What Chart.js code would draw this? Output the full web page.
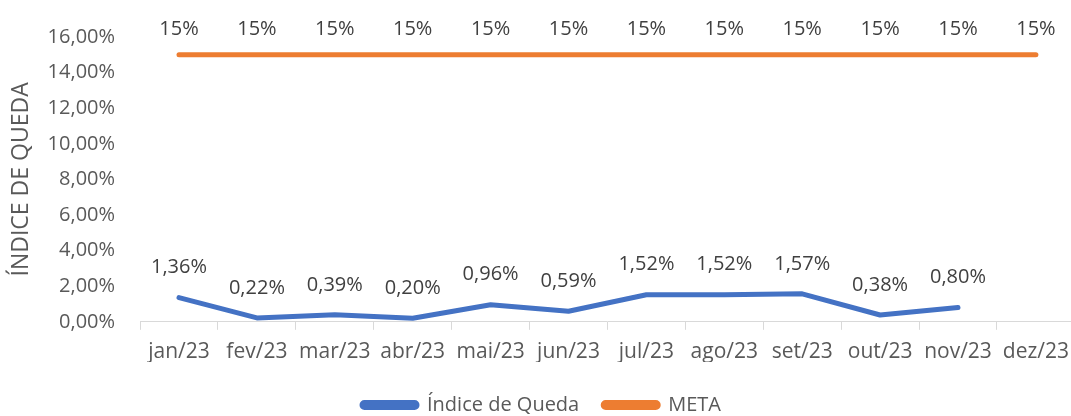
<!DOCTYPE html>
<html>
<head>
<meta charset="utf-8">
<script src="https://cdn.jsdelivr.net/npm/chart.js@4"></script>
<style>
  html, body { margin: 0; padding: 0; background: #fff; overflow: hidden; }
</style>
</head>
<body>
<canvas id="chart" width="1079" height="416"></canvas>
<script>
// meses e valores (%)
var months = ["jan/23", "fev/23", "mar/23", "abr/23", "mai/23", "jun/23",
  "jul/23", "ago/23", "set/23", "out/23", "nov/23", "dez/23"];
var indiceQueda = [1.36, 0.22, 0.39, 0.20, 0.96, 0.59, 1.52, 1.52, 1.57, 0.38, 0.80, null];
var meta = [15, 15, 15, 15, 15, 15, 15, 15, 15, 15, 15, 15];
var yTicks = [0, 2, 4, 6, 8, 10, 12, 14, 16];

var FONT = "'Open Sans', 'Liberation Sans', sans-serif";
var GREY = "#595959";

function pct2(v) {
  return v.toFixed(2).replace(".", ",") + "%";
}

// rótulos de dados acima de cada ponto
var valueLabels = {
  id: "valueLabels",
  afterDatasetsDraw: function (chart) {
    var ctx = chart.ctx;
    ctx.save();
    ctx.font = "20px " + FONT;
    ctx.fillStyle = "#404040";
    ctx.textAlign = "center";
    ctx.textBaseline = "middle";
    chart.data.datasets.forEach(function (ds, i) {
      var meta = chart.getDatasetMeta(i);
      meta.data.forEach(function (pt, j) {
        var v = ds.data[j];
        if (v === null || v === undefined) return;
        var txt = i === 0 ? pct2(v) : v + "%";
        ctx.fillText(txt, pt.x, pt.y - (i === 0 ? 30 : 26));
      });
    });
    ctx.restore();
  },
};

// empurra a legenda um pouco para baixo
var legendShift = {
  id: "legendShift",
  afterLayout: function (chart) {
    if (chart.legend) {
      chart.legend.top += 9;
      chart.legend.bottom += 9;
    }
  },
};

new Chart(document.getElementById("chart").getContext("2d"), {
  type: "line",
  data: {
    labels: months,
    datasets: [
      {
        label: "Índice de Queda",
        data: indiceQueda,
        borderColor: "#4472C4",
        backgroundColor: "#4472C4",
        borderWidth: 5,
        pointRadius: 0,
        borderCapStyle: "round",
        borderJoinStyle: "round",
        tension: 0,
      },
      {
        label: "META",
        data: meta,
        borderColor: "#ED7D31",
        backgroundColor: "#ED7D31",
        borderWidth: 5,
        pointRadius: 0,
        borderCapStyle: "round",
        tension: 0,
      },
    ],
  },
  options: {
    responsive: false,
    animation: false,
    layout: { padding: { top: 36, right: 0, left: 4, bottom: 0 } },
    plugins: {
      tooltip: { enabled: false },
      legend: {
        position: "bottom",
        labels: {
          font: { family: FONT, size: 20 },
          color: GREY,
          boxWidth: 55,
          boxHeight: 5,
          useBorderRadius: true,
          borderRadius: 2.5,
          padding: 24,
        },
      },
    },
    scales: {
      y: {
        min: 0,
        max: 16,
        afterBuildTicks: function (axis) {
          axis.ticks = yTicks.map(function (v) { return { value: v }; });
        },
        afterFit: function (axis) {
          axis.width -= 21;
        },
        grid: { display: false, drawTicks: false },
        border: { display: false },
        ticks: {
          font: { family: FONT, size: 20 },
          color: GREY,
          padding: 25,
          callback: function (v) { return pct2(v); },
        },
        title: {
          display: true,
          text: "ÍNDICE DE QUEDA",
          font: { family: FONT, size: 23 },
          color: GREY,
          padding: { top: 4, bottom: 8 },
        },
      },
      x: {
        offset: true,
        afterFit: function (axis) {
          axis.height -= 13;
        },
        grid: {
          offset: true,
          drawOnChartArea: false,
          drawTicks: true,
          tickLength: 8,
          color: "#d9d9d9",
        },
        border: { display: true, color: "#d9d9d9", width: 1 },
        ticks: {
          font: { family: FONT, size: 21 },
          color: GREY,
          padding: 10,
          maxRotation: 0,
          autoSkip: false,
        },
      },
    },
  },
  plugins: [valueLabels, legendShift],
});
</script>
</body>
</html>
